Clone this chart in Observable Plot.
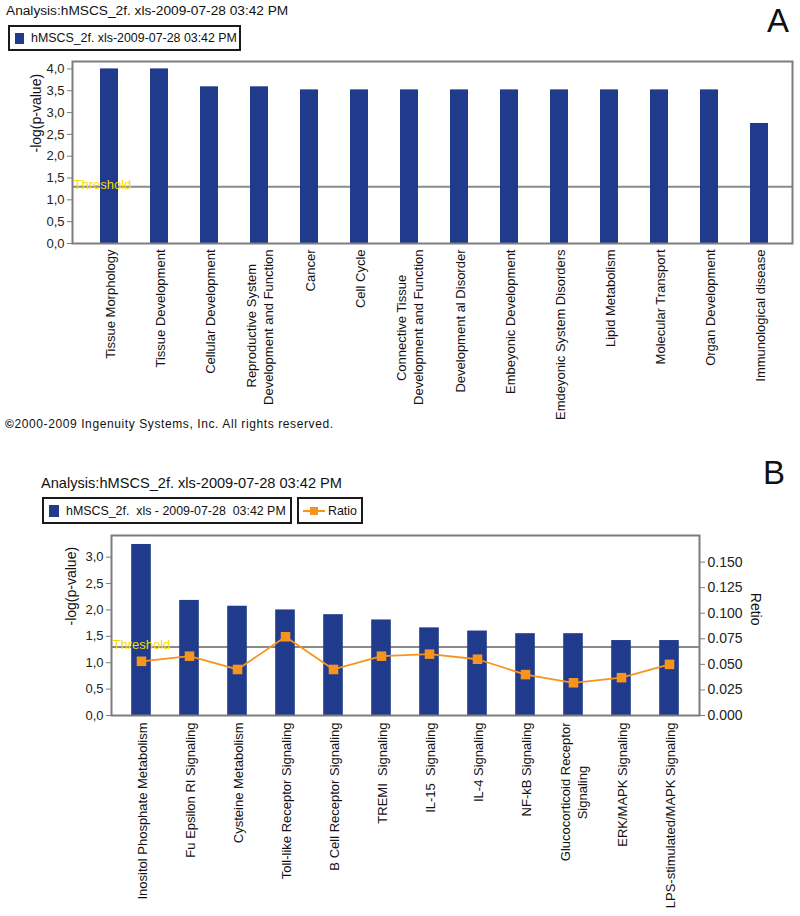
<!DOCTYPE html>
<html>
<head>
<meta charset="utf-8">
<script src="https://cdn.jsdelivr.net/npm/d3@7"></script>
<script src="https://cdn.jsdelivr.net/npm/@observablehq/plot@0.6"></script>
<style>
  body { margin: 0; background: #fff; font-family: "Liberation Sans", Arial, sans-serif; }
  #page { position: relative; width: 800px; height: 916px; overflow: hidden; background: #fff; }
  .abs { position: absolute; white-space: pre; color: #111; line-height: 1; }
  .legend { position: absolute; border: 2px solid #1a1a1a; box-sizing: border-box; font-size: 12.4px;
            display: flex; align-items: center; white-space: pre; color: #111; }
  .legend > * { flex-shrink: 0; }
  .plot { position: absolute; left: 0; }
  .letter { position: absolute; font-family: "Liberation Sans", Arial, sans-serif; font-size: 33px; line-height: 1; color: #111; }
</style>
</head>
<body>
<div id="page">
  <div class="abs" id="titleA" style="left:6px; top:4px; font-size:13.7px;"></div>
  <div class="legend" style="left:8px; top:25px; width:233px; height:26px;">
    <span style="display:inline-block;width:9px;height:11px;background:#203a8c;margin:0 7px 0 5px;"></span><span id="legA"></span>
  </div>
  <div class="letter" style="left:767px; top:4px;">A</div>
  <div class="abs" style="left:5px; top:418px; font-size:12px; letter-spacing:0.6px;"><span style="font-weight:bold;">©</span>2000-2009 Ingenuity Systems, Inc. All rights reserved.</div>
  <div id="plotA" class="plot" style="top:55px;"></div>

  <div class="abs" id="titleB" style="left:41px; top:476px; font-size:14.6px;"></div>
  <div class="legend" style="left:42px; top:497px; width:250px; height:27px;">
    <span style="display:inline-block;width:10px;height:12px;background:#203a8c;margin:0 7px 0 5px;"></span><span id="legB"></span>
  </div>
  <div class="legend" style="left:297px; top:497px; width:66px; height:27px;">
    <svg width="22" height="12" style="margin:0 3px 0 4px;"><line x1="0" y1="6" x2="22" y2="6" stroke="#f7941d" stroke-width="2"/><rect x="7" y="2" width="8" height="8" fill="#f7941d"/></svg><span>Ratio</span>
  </div>
  <div class="letter" style="left:763px; top:456px;">B</div>
  <div id="plotB" class="plot" style="top:528px;"></div>
</div>

<script>
// ---------- data ----------
const titleText = "Analysis:hMSCS_2f. xls-2009-07-28 03:42 PM";
const legendTextA = "hMSCS_2f. xls-2009-07-28 03:42 PM";
const legendTextB = "hMSCS_2f.  xls - 2009-07-28  03:42 PM";
const yLabel = "-log(p-value)";
const ratioLabel = "Retio";
const thresholdLabel = "Threshold";
const threshold = 1.3;

const categoriesA = [
  "Tissue Morphology", "Tissue Development", "Cellular Development",
  "Reproductive System\nDevelopment and Function", "Cancer", "Cell Cycle",
  "Connective Tissue\nDevelopment and Function", "Development al Disorder",
  "Embeyonic Development", "Emdeyonic System Disorders", "Lipid Metabolism",
  "Molecular Transport", "Organ Development", "Immunological disease"
];
const valuesA = [4.0, 4.0, 3.59, 3.59, 3.52, 3.52, 3.52, 3.52, 3.52, 3.52, 3.52, 3.52, 3.52, 2.75];
const yTicksA = [0, 0.5, 1, 1.5, 2, 2.5, 3, 3.5, 4];
const yMaxA = 4.17;

const categoriesB = [
  "Inositol Phosphate Metabolism", "Fu Epsilon RI Signaling", "Cysteine Metabolism",
  "Toll-like Receptor Signaling", "B Cell Receptor Signaling", "TREMI\u00a0 Signaling",
  "IL-15\u00a0 Signaling", "IL-4 Signaling", "NF-kB Signaling",
  "Glucocorticoid Receptor\nSignaling", "ERK/MAPK Signaling", "LPS-stimulated/MAPK Signaling"
];
const valuesB = [3.24, 2.18, 2.07, 2.00, 1.91, 1.81, 1.66, 1.60, 1.55, 1.55, 1.42, 1.42];
const ratiosB = [0.053, 0.058, 0.045, 0.077, 0.045, 0.058, 0.060, 0.055, 0.040, 0.032, 0.037, 0.050];
const yTicksB = [0, 0.5, 1, 1.5, 2, 2.5, 3];
const ratioTicks = [0, 0.025, 0.05, 0.075, 0.1, 0.125, 0.15];
const yMaxB = 3.41;
const ratioMax = 0.176;

// ---------- styles ----------
const barColor = "#203a8c";
const ratioColor = "#f7941d";
const frameColor = "#7d7d7d";
const thresholdColor = "#8a8a8a";
const thresholdTextColor = "#f5dc00";
const fontFamily = "'Liberation Sans', Arial, sans-serif";

document.getElementById("titleA").textContent = titleText;
document.getElementById("titleB").textContent = titleText;
document.getElementById("legA").textContent = legendTextA;
document.getElementById("legB").textContent = legendTextB;

const commaFmt = d => d3.format(".1f")(d).replace(".", ",");

// center the lines of multi-line labels (text end anchored at the axis)
const ctx = document.createElement("canvas").getContext("2d");
ctx.font = "13px 'Liberation Sans'";
function centerLines(label) {
  const lines = String(label).split("\n");
  if (lines.length < 2) return label;
  const w = lines.map(l => ctx.measureText(l).width);
  const max = Math.max(...w);
  const sp = ctx.measureText("\u00a0").width;
  return lines.map((l, i) => l + "\u00a0".repeat(Math.round((max - w[i]) / 2 / sp))).join("\n");
}

// ---------- Panel A ----------
const dataA = categoriesA.map((c, i) => ({cat: c, value: valuesA[i]}));
const plotA = Plot.plot({
  width: 800, height: 374,
  marginTop: 6, marginBottom: 186, marginLeft: 72, marginRight: 8,
  style: {fontFamily, fontSize: "13px", color: "#222", background: "transparent"},
  x: {domain: categoriesA, padding: 0, insetLeft: 7, insetRight: 3},
  y: {domain: [0, yMaxA]},
  marks: [
    Plot.ruleY([threshold], {stroke: thresholdColor, strokeWidth: 2}),
    Plot.barY(dataA, {x: "cat", y: "value", fill: barColor, insetLeft: 16, insetRight: 16}),
    Plot.frame({stroke: frameColor, strokeWidth: 2}),
    Plot.axisY(yTicksA, {tickFormat: commaFmt, tickSize: 5, tickPadding: 3, stroke: frameColor, fill: "#222", fontSize: 13, label: null}),
    Plot.axisX({tickSize: 0, tickPadding: 6, rotate: -90, textAnchor: "end", lineAnchor: "middle", lineHeight: 1.3, fontSize: 13, fill: "#111", tickFormat: centerLines, label: null}),
    Plot.text([yLabel], {frameAnchor: "left", dx: -36, rotate: -90, fontSize: 14, fill: "#111"}),
    Plot.text([threshold], {y: d => d, text: () => thresholdLabel, frameAnchor: "left", textAnchor: "start", lineAnchor: "bottom", dx: 1, dy: 2, fill: thresholdTextColor, fontSize: 13})
  ]
});
document.getElementById("plotA").append(plotA);

// ---------- Panel B ----------
const k = yMaxB / ratioMax;
const dataB = categoriesB.map((c, i) => ({cat: c, value: valuesB[i], ratio: ratiosB[i]}));
const plotB = Plot.plot({
  width: 800, height: 388,
  marginTop: 7, marginBottom: 201, marginLeft: 111, marginRight: 101,
  style: {fontFamily, fontSize: "13px", color: "#222", background: "transparent"},
  x: {domain: categoriesB, padding: 0, insetLeft: 5, insetRight: 5},
  y: {domain: [0, yMaxB]},
  marks: [
    Plot.ruleY([threshold], {stroke: thresholdColor, strokeWidth: 2}),
    Plot.barY(dataB, {x: "cat", y: "value", fill: barColor, insetLeft: 14.2, insetRight: 14.2}),
    Plot.frame({stroke: frameColor, strokeWidth: 2}),
    Plot.axisY(yTicksB, {tickFormat: commaFmt, tickSize: 5, tickPadding: 3, stroke: frameColor, fill: "#222", fontSize: 13, label: null}),
    Plot.axisY(ratioTicks, {anchor: "right", y: d => d * k, tickFormat: d3.format(".3f"), tickSize: 5, tickPadding: 3, stroke: frameColor, fill: "#222", fontSize: 14, label: null}),
    Plot.axisX({tickSize: 0, tickPadding: 7, rotate: -90, textAnchor: "end", lineAnchor: "middle", lineHeight: 1.3, fontSize: 13, fill: "#111", tickFormat: centerLines, label: null}),
    Plot.text([yLabel], {frameAnchor: "left", dx: -40, rotate: -90, fontSize: 14, fill: "#111"}),
    Plot.text([ratioLabel], {frameAnchor: "right", dx: 56, rotate: 90, fontSize: 14, fill: "#111"}),
    Plot.text([threshold], {y: d => d, text: () => thresholdLabel, frameAnchor: "left", textAnchor: "start", lineAnchor: "bottom", dx: 1, dy: 2, fill: thresholdTextColor, fontSize: 13}),
    Plot.line(dataB, {x: "cat", y: d => d.ratio * k, stroke: ratioColor, strokeWidth: 1.8}),
    Plot.dot(dataB, {x: "cat", y: d => d.ratio * k, symbol: "square", r: 5.4, fill: ratioColor, stroke: "none"})
  ]
});
document.getElementById("plotB").append(plotB);
</script>
</body>
</html>
